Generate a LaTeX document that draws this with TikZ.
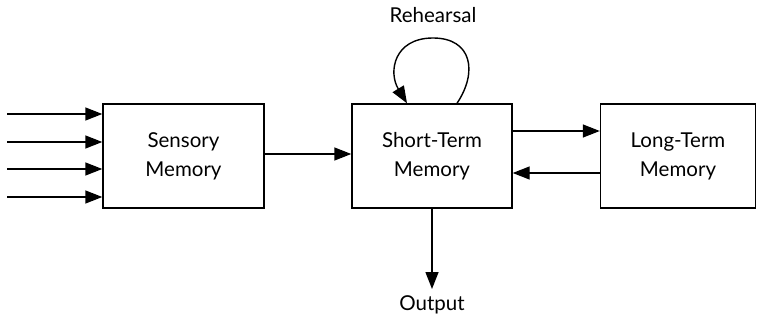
\documentclass[tikz,border=0pt]{standalone}
\usepackage{fontspec}
\setmainfont{Lato}
\usetikzlibrary{arrows.meta}
\begin{document}
\begin{tikzpicture}[x=1pt,y=-1pt,
  box/.style={draw,line width=1.4pt,minimum height=104pt,inner sep=0pt,
    align=center,font=\fontsize{20.5}{29}\selectfont},
  arr/.style={line width=1.4pt,-{Triangle[length=17pt,width=13pt]}},
  lbl/.style={font=\fontsize{20.5}{24}\selectfont,inner sep=0pt}]
\useasboundingbox (0,0) rectangle (757,323);
\node[box,minimum width=161pt] (sen) at (183.5,156) {Sensory\\Memory};
\node[box,minimum width=160pt] (stm) at (432,156) {Short-Term\\Memory};
\node[box,minimum width=155pt] (ltm) at (678,156) {Long-Term\\Memory};
\coordinate (i1) at (7,114);
\coordinate (i2) at (7,142);
\coordinate (i3) at (7,169);
\coordinate (i4) at (7,197);
\foreach \i in {1,2,3,4} \draw[arr] (i\i) -- (i\i -| sen.west);
\draw[arr] (sen.east |- 0,154) -- (stm.west |- 0,154);
\draw[arr] (stm.east |- 0,131) -- (ltm.west |- 0,131);
\draw[arr] (ltm.west |- 0,173) -- (stm.east |- 0,173);
\node[lbl,anchor=base] (out) at (432,310) {Output};
\coordinate (oe) at (432,289);
\draw[arr] (stm.south) -- (oe);
\node[lbl,anchor=base] (reh) at (433,23) {Rehearsal};
\draw[arr] ([xshift=25pt]stm.north) .. controls (478,72) and (472,38) .. (433,38)
  .. controls (394,38) and (388,72) .. ([xshift=-25pt]stm.north);
\end{tikzpicture}
\end{document}
